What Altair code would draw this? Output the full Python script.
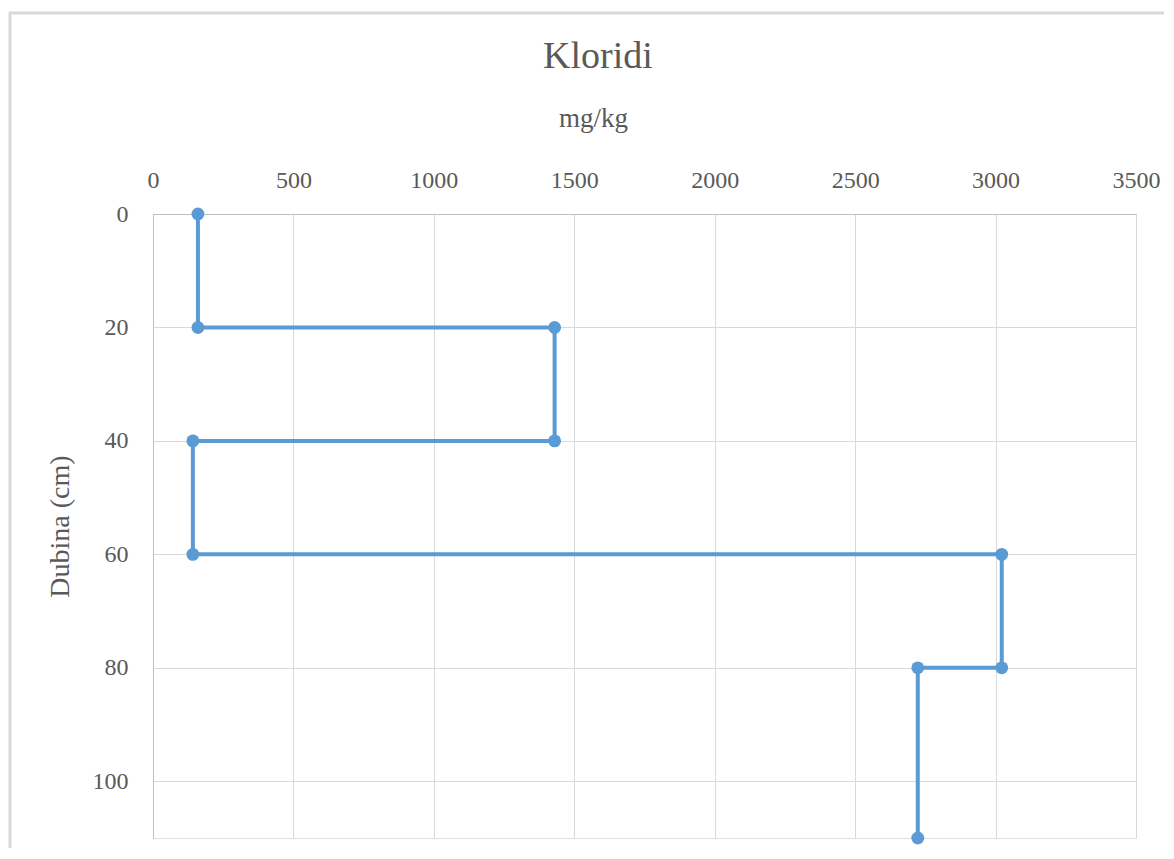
import altair as alt
import pandas as pd

# Step profile of chloride content vs depth
kloridi = [160, 160, 1430, 1430, 142, 142, 3022, 3022, 2723, 2723]
dubina = [0, 20, 20, 40, 40, 60, 60, 80, 80, 110]
x_ticks = [0, 500, 1000, 1500, 2000, 2500, 3000, 3500]
y_ticks = [0, 20, 40, 60, 80, 100]
chart_title = "Kloridi"

df = pd.DataFrame({"kloridi": kloridi, "dubina": dubina, "order": list(range(len(kloridi)))})

FONT = "Liberation Serif"
TXT = "#595959"
BLUE = "#5b9bd5"

x_enc = alt.X(
    "kloridi:Q",
    scale=alt.Scale(domain=[0, 3500], nice=False),
    axis=alt.Axis(
        orient="top", values=x_ticks, title="mg/kg", ticks=False, format="d",
        labelPadding=22, titlePadding=36, labelFontSize=24, titleFontSize=27,
        titleFontWeight="normal", labelColor=TXT, titleColor=TXT,
        labelFont=FONT, titleFont=FONT, domainColor="#bfbfbf",
        gridColor="#d9d9d9", labelFlush=False, titleX=440,
    ),
)
y_enc = alt.Y(
    "dubina:Q",
    scale=alt.Scale(domain=[0, 110], reverse=True, nice=False),
    axis=alt.Axis(
        values=y_ticks, title="Dubina (cm)", ticks=False, format="d",
        labelPadding=25, titlePadding=18, labelFontSize=24, titleFontSize=28,
        titleFontWeight="normal", labelColor=TXT, titleColor=TXT,
        labelFont=FONT, titleFont=FONT, domainColor="#bfbfbf",
        gridColor="#d9d9d9", labelFlush=False,
    ),
)

line = alt.Chart(df).mark_line(color=BLUE, strokeWidth=4).encode(
    x=x_enc, y=y_enc, order="order:Q"
)
points = alt.Chart(df).mark_circle(color=BLUE, opacity=1, size=165).encode(
    x="kloridi:Q", y="dubina:Q"
)

# outer chart frame (decoration)
frame = alt.Chart(pd.DataFrame({"a": [0]})).mark_rect(
    fill=None, stroke="#d9d9d9", strokeWidth=3, clip=False
).encode(
    x=alt.value(-143), x2=alt.value(1060), y=alt.value(-201), y2=alt.value(660)
)

title = alt.Chart(pd.DataFrame({"t": [chart_title]})).mark_text(
    font=FONT, fontSize=38, color=TXT, align="center", baseline="alphabetic"
).encode(text="t:N", x=alt.value(445), y=alt.value(-146))

chart = alt.layer(frame, line, points, title).properties(
    width=983,
    height=624,
    autosize=alt.AutoSizeParams(type="none"),
    padding={"left": 145, "top": 206, "right": 28, "bottom": 10},
).configure_view(stroke=None).configure(background="white")

chart.save("out.html", embed_options={"renderer": "svg", "actions": False})
